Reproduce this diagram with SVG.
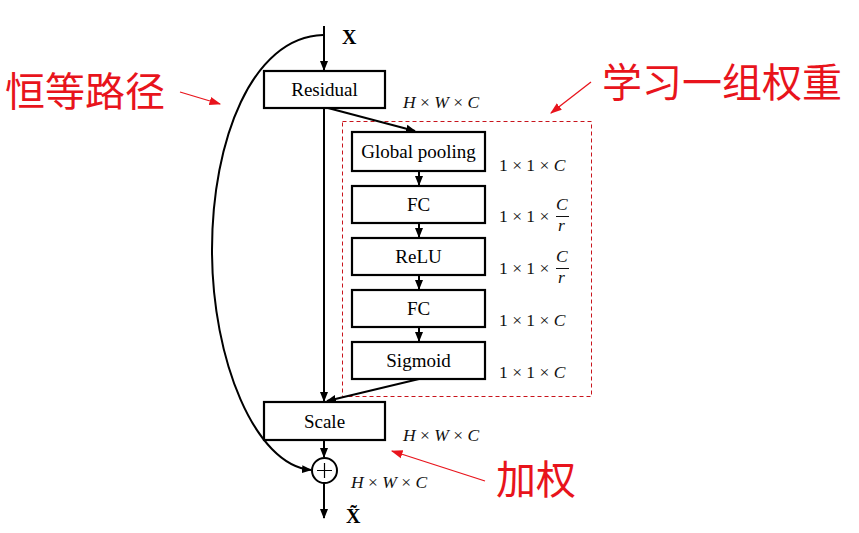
<svg xmlns="http://www.w3.org/2000/svg" width="859" height="533" viewBox="0 0 859 533">
<style>
.box{fill:#fff;stroke:#000;stroke-width:2.2}
.lbl{font-family:"Liberation Serif",serif;font-size:19px;fill:#000;text-anchor:middle}
.dim{font-family:"Liberation Serif",serif;font-size:17.5px;fill:#111}
.it{font-style:italic}
.con{fill:none;stroke:#000;stroke-width:2}
.red{fill:none;stroke:#e8141c;stroke-width:1.3}
.cjk{font-family:"Liberation Sans","Noto Sans CJK SC",sans-serif;font-size:40px;fill:#e8141c}
</style>
<defs>
<marker id="ah" viewBox="0 0 10 10" refX="9" refY="5" markerWidth="5" markerHeight="5" orient="auto" markerUnits="strokeWidth"><path d="M0,1 L10,5 L0,9 z" fill="#000"/></marker>
<marker id="rh" viewBox="0 0 10 10" refX="9" refY="5" markerWidth="9" markerHeight="9" orient="auto" markerUnits="strokeWidth"><path d="M0,1.5 L10,5 L0,8.5 z" fill="#e8141c"/></marker>
</defs>
<rect width="859" height="533" fill="#fff"/>

<g id="se-block" fill="none">
<rect x="342.5" y="121.5" width="249" height="275" fill="none" stroke="#c8141c" stroke-width="1" stroke-dasharray="4,3"/>
</g>

<g id="connectors">
<line class="con" x1="324" y1="26" x2="324" y2="70" marker-end="url(#ah)"/>
<line class="con" x1="324" y1="108" x2="324" y2="401" marker-end="url(#ah)"/>
<line class="con" x1="328" y1="108" x2="415" y2="131" marker-end="url(#ah)"/>
<line class="con" x1="419" y1="171" x2="419" y2="185" marker-end="url(#ah)"/>
<line class="con" x1="419" y1="223" x2="419" y2="237" marker-end="url(#ah)"/>
<line class="con" x1="419" y1="275" x2="419" y2="289" marker-end="url(#ah)"/>
<line class="con" x1="419" y1="327" x2="419" y2="341" marker-end="url(#ah)"/>
<line class="con" x1="419" y1="379" x2="327" y2="401" marker-end="url(#ah)"/>
<line class="con" x1="324" y1="440" x2="324" y2="457" marker-end="url(#ah)"/>
<line class="con" x1="324" y1="483" x2="324" y2="518" marker-end="url(#ah)"/>
<path class="con" d="M323,35 C252,37 212,140 212,250 C212,360 255,465 311,470" marker-end="url(#ah)"/>
</g>

<g id="residual"><rect class="box" x="264" y="71" width="121" height="37"/><text class="lbl" x="324.5" y="96">Residual</text></g>
<g id="global-pooling"><rect class="box" x="352" y="132" width="133" height="39"/><text class="lbl" x="418.5" y="158">Global pooling</text></g>
<g id="fc1"><rect class="box" x="352" y="186" width="133" height="37"/><text class="lbl" x="418.5" y="211">FC</text></g>
<g id="relu"><rect class="box" x="352" y="238" width="133" height="37"/><text class="lbl" x="418.5" y="263">ReLU</text></g>
<g id="fc2"><rect class="box" x="352" y="290" width="133" height="37"/><text class="lbl" x="418.5" y="315">FC</text></g>
<g id="sigmoid"><rect class="box" x="352" y="342" width="133" height="37"/><text class="lbl" x="418.5" y="367">Sigmoid</text></g>
<g id="scale"><rect class="box" x="264" y="402" width="121" height="38"/><text class="lbl" x="324.5" y="428">Scale</text></g>
<g id="plus"><circle cx="324.5" cy="470.5" r="12.5" fill="#fff" stroke="#000" stroke-width="2"/><path d="M317,470.5 H332 M324.5,463 V478" stroke="#000" stroke-width="1.2"/></g>

<g id="labels">
<text x="342" y="44" font-family="Liberation Serif,serif" font-size="20" font-weight="bold">X</text>
<text x="346" y="523" font-family="Liberation Serif,serif" font-size="20" font-weight="bold">X̃</text>
<text class="dim" x="403" y="108"><tspan class="it">H</tspan> × <tspan class="it">W</tspan> × <tspan class="it">C</tspan></text>
<text class="dim" x="403" y="441"><tspan class="it">H</tspan> × <tspan class="it">W</tspan> × <tspan class="it">C</tspan></text>
<text class="dim" x="351" y="488"><tspan class="it">H</tspan> × <tspan class="it">W</tspan> × <tspan class="it">C</tspan></text>
<text class="dim" x="499" y="171">1 × 1 × <tspan class="it">C</tspan></text>
<text class="dim" x="499" y="222">1 × 1 ×</text>
<text class="dim it" x="556" y="210">C</text>
<line x1="556" y1="216.5" x2="569" y2="216.5" stroke="#111" stroke-width="1"/>
<text class="dim it" x="558" y="231">r</text>
<text class="dim" x="499" y="274">1 × 1 ×</text>
<text class="dim it" x="556" y="262">C</text>
<line x1="556" y1="268.5" x2="569" y2="268.5" stroke="#111" stroke-width="1"/>
<text class="dim it" x="558" y="283">r</text>
<text class="dim" x="499" y="326">1 × 1 × <tspan class="it">C</tspan></text>
<text class="dim" x="499" y="378">1 × 1 × <tspan class="it">C</tspan></text>
</g>

<g id="annotations">
<text class="cjk" x="5" y="106">恒等路径</text>
<line class="red" x1="180" y1="92" x2="220" y2="104" marker-end="url(#rh)"/>
<text class="cjk" x="602" y="97">学习一组权重</text>
<line class="red" x1="591" y1="82" x2="551" y2="113" marker-end="url(#rh)"/>
<text class="cjk" x="496" y="494">加权</text>
<line class="red" x1="485" y1="481" x2="392" y2="451" marker-end="url(#rh)"/>
</g>
</svg>
